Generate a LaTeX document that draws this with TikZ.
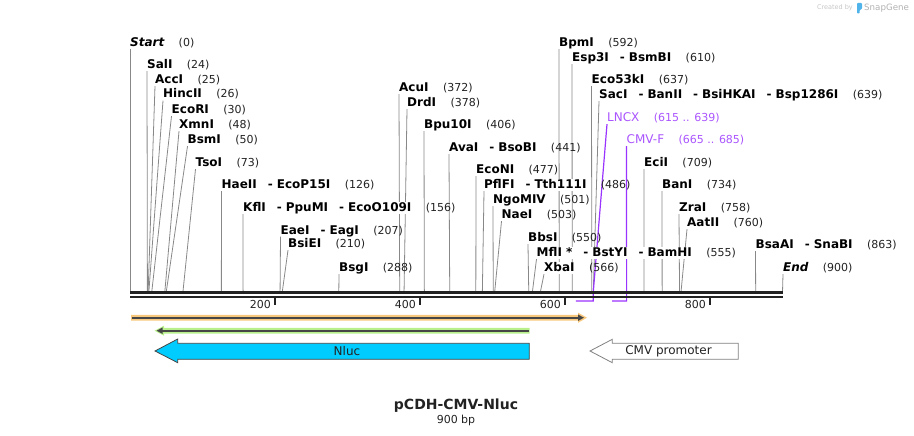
\documentclass[tikz,border=0pt]{standalone}
\usepackage{fontspec}
\setmainfont{DejaVu Sans}
\usepackage{tikz}
\usetikzlibrary{positioning, calc, arrows.meta}

\pgfdeclarelayer{bg}
\pgfsetlayers{bg,main}

\definecolor{cutgray}{RGB}{136,136,136}
\definecolor{ruler}{RGB}{34,34,34}
\definecolor{primerline}{RGB}{153,51,255}
\definecolor{primertext}{RGB}{170,85,255}
\definecolor{nluccyan}{RGB}{0,204,255}
\definecolor{featorange}{RGB}{247,200,125}
\definecolor{featgreen}{RGB}{185,240,140}
\definecolor{featdark}{RGB}{70,70,70}
\definecolor{snapblue}{RGB}{80,180,235}

\newcommand{\enzsep}{\hspace{11pt}-\hspace{4pt}}

\begin{document}
\begin{tikzpicture}[x=1pt,y=-1pt,
  enz/.style={font=\fontsize{12}{14}\selectfont\bfseries, fill=white, inner xsep=0pt, inner ysep=0.5pt, text height=9pt, text depth=2pt, anchor=base west},
  ends/.style={enz, font=\fontsize{12}{14}\selectfont\bfseries\itshape},
  prm/.style={enz, font=\fontsize{12}{14}\selectfont, text=primertext},
  sitepos/.style={font=\fontsize{11}{13}\selectfont, text=ruler, inner sep=0pt, base right=14pt of #1},
  prmpos/.style={sitepos=#1, text=primertext},
  cut/.style={draw=cutgray, line width=0.8pt},
  primer/.style={draw=primerline, line width=1.2pt},
  backbone/.style={draw=ruler, line width=2.4pt},
  tick/.style={draw=ruler, line width=1.5pt}]

\useasboundingbox (0,0) rectangle (914,436);

% cut sites on the backbone
\foreach \n in {0,24,25,26,30,48,50,73,126,156,207,210,288,372,378,406,441,477,486,501,503,550,555,566,592,610,637,639,685,709,734,758,760,863,900}
  \coordinate (s\n) at ({130+0.725*\n},292);
\foreach \n in {615,639,665,685}
  \coordinate (p\n) at ({130+0.725*\n},301);

% enzymes
\node[ends] (Start) at (130,46.5) {Start};
\node[sitepos=Start] {(0)};
\node[enz] (SalI) at (147,68.5) {SalI};
\node[sitepos=SalI] {(24)};
\node[enz] (AccI) at (155,83.5) {AccI};
\node[sitepos=AccI] {(25)};
\node[enz] (HincII) at (163,98) {HincII};
\node[sitepos=HincII] {(26)};
\node[enz] (EcoRI) at (171.5,113.5) {EcoRI};
\node[sitepos=EcoRI] {(30)};
\node[enz] (XmnI) at (179,128.5) {XmnI};
\node[sitepos=XmnI] {(48)};
\node[enz] (BsmI) at (187.5,143.5) {BsmI};
\node[sitepos=BsmI] {(50)};
\node[enz] (TsoI) at (195.5,166.5) {TsoI};
\node[sitepos=TsoI] {(73)};
\node[enz] (HaeII) at (221.5,188.5) {HaeII\enzsep EcoP15I};
\node[sitepos=HaeII] {(126)};
\node[enz] (KflI) at (243,211.5) {KflI\enzsep PpuMI\enzsep EcoO109I};
\node[sitepos=KflI] {(156)};
\node[enz] (EaeI) at (280.5,234) {EaeI\enzsep EagI};
\node[sitepos=EaeI] {(207)};
\node[enz] (BsiEI) at (288,247.5) {BsiEI};
\node[sitepos=BsiEI] {(210)};
\node[enz] (BsgI) at (339,271.5) {BsgI};
\node[sitepos=BsgI] {(288)};
\node[enz] (AcuI) at (399,91.5) {AcuI};
\node[sitepos=AcuI] {(372)};
\node[enz] (DrdI) at (407,106.5) {DrdI};
\node[sitepos=DrdI] {(378)};
\node[enz] (Bpu10I) at (424,128.5) {Bpu10I};
\node[sitepos=Bpu10I] {(406)};
\node[enz] (AvaI) at (449,151.5) {AvaI\enzsep BsoBI};
\node[sitepos=AvaI] {(441)};
\node[enz] (EcoNI) at (476,173.5) {EcoNI};
\node[sitepos=EcoNI] {(477)};
\node[enz] (PflFI) at (484,188.5) {PflFI\enzsep Tth111I};
\node[sitepos=PflFI] {(486)};
\node[enz] (NgoMIV) at (493,203.5) {NgoMIV};
\node[sitepos=NgoMIV] {(501)};
\node[enz] (NaeI) at (501.5,218.5) {NaeI};
\node[sitepos=NaeI] {(503)};
\node[enz] (BbsI) at (528,241.5) {BbsI};
\node[sitepos=BbsI] {(550)};
\node[enz] (MflI) at (536.5,256.5) {MflI *\enzsep BstYI\enzsep BamHI};
\node[sitepos=MflI] {(555)};
\node[enz] (XbaI) at (544,271.5) {XbaI};
\node[sitepos=XbaI] {(566)};
\node[enz] (BpmI) at (559,46.5) {BpmI};
\node[sitepos=BpmI] {(592)};
\node[enz] (Esp3I) at (572,61.5) {Esp3I\enzsep BsmBI};
\node[sitepos=Esp3I] {(610)};
\node[enz] (Eco53kI) at (591.5,83.5) {Eco53kI};
\node[sitepos=Eco53kI] {(637)};
\node[enz] (SacI) at (599,98.5) {SacI\enzsep BanII\enzsep BsiHKAI\enzsep Bsp1286I};
\node[sitepos=SacI] {(639)};
\node[prm] (LNCX) at (607,121.5) {LNCX};
\node[prmpos=LNCX] {(615 .. 639)};
\node[prm] (CMVF) at (626.5,143.5) {CMV-F};
\node[prmpos=CMVF] {(665 .. 685)};
\node[enz] (EciI) at (644,166.5) {EciI};
\node[sitepos=EciI] {(709)};
\node[enz] (BanI) at (662,188.5) {BanI};
\node[sitepos=BanI] {(734)};
\node[enz] (ZraI) at (679,211.5) {ZraI};
\node[sitepos=ZraI] {(758)};
\node[enz] (AatII) at (687,226.5) {AatII};
\node[sitepos=AatII] {(760)};
\node[enz] (BsaAI) at (755.5,248.5) {BsaAI\enzsep SnaBI};
\node[sitepos=BsaAI] {(863)};
\node[ends] (End) at (783,271.5) {End};
\node[sitepos=End] {(900)};

\begin{pgfonlayer}{bg}
\foreach \a/\b in {Start/0,SalI/24,AccI/25,HincII/26,EcoRI/30,XmnI/48,BsmI/50,TsoI/73,HaeII/126,KflI/156,EaeI/207,BsiEI/210,BsgI/288,AcuI/372,DrdI/378,Bpu10I/406,AvaI/441,EcoNI/477,PflFI/486,NgoMIV/501,NaeI/503,BbsI/550,MflI/555,XbaI/566,BpmI/592,Esp3I/610,Eco53kI/637,SacI/639,EciI/709,BanI/734,ZraI/758,AatII/760,BsaAI/863,End/900}
  \draw[cut] (\a.south west) -- (s\b);
% primers
\draw[primer] (LNCX.south west) -- (s639) -- (p639) -- (p615);
\draw[primer] (CMVF.south west) -- (s685) -- (p685) -- (p665);
\end{pgfonlayer}

% backbone and ruler
\draw[backbone] (130,292.6) -- (783,292.6);
\draw[backbone] (130,296.8) -- (783,296.8);
\foreach \t [evaluate=\t as \x using 130+0.725*\t] in {200,400,600,800}{
  \draw[tick] (\x,298) -- (\x,305);
  \node[font=\fontsize{11}{13}\selectfont, text=ruler, inner sep=0pt, anchor=base east] at (\x-4,308) {\t};
}

% features
\fill[featorange] (131,314.8) -- (578,314.8) -- (578,312.6) -- (587,317.7) -- (578,322.8) -- (578,320.6) -- (131,320.6) -- cycle;
\draw[featdark, line width=1.8pt, -{Triangle[length=6pt,width=6pt]}] (132,317.7) -- (584,317.7);
\fill[featgreen] (529.5,327.8) -- (164,327.8) -- (164,325.7) -- (154.5,330.7) -- (164,335.7) -- (164,333.6) -- (529.5,333.6) -- cycle;
\draw[featdark, line width=1.8pt, -{Triangle[length=6pt,width=6pt]}] (528.5,330.7) -- (156.5,330.7);

\filldraw[fill=nluccyan, draw=featdark, line width=0.8pt] (529.3,343.3) -- (177.7,343.3) -- (177.7,339) -- (155,351) -- (177.7,362.7) -- (177.7,359.3) -- (529.3,359.3) -- cycle;
\node[font=\fontsize{12}{14}\selectfont, text=ruler] (nluc) at (347,351) {Nluc};
\filldraw[fill=white, draw=gray, line width=0.8pt] (738.3,343.3) -- (612.3,343.3) -- (612.3,339.3) -- (590,351) -- (612.3,362.7) -- (612.3,359.3) -- (738.3,359.3) -- cycle;
\node[font=\fontsize{12}{14}\selectfont, text=ruler] (cmv) at (668.5,351) {CMV promoter};

% title
\node[font=\fontsize{14}{16}\selectfont\bfseries, text=ruler] (title) at (456,406) {pCDH-CMV-Nluc};
\node[font=\fontsize{11}{13}\selectfont, text=ruler] (size) at (456,420.5) {900 bp};

% watermark
\node[font=\fontsize{6.5}{8}\selectfont, text=gray!45, inner sep=0pt, anchor=east] (made) at (853,8) {Created by};
\fill[snapblue, rounded corners=0.8pt] (857,3) -- (862,3) -- (862,9) -- (859.7,10) -- (859.7,13.5) -- (857,13.5) -- cycle;
\node[font=\fontsize{8.7}{10}\selectfont, text=gray!60, inner sep=0pt, anchor=west] (snap) at (864,8) {SnapGene};
\end{tikzpicture}
\end{document}
